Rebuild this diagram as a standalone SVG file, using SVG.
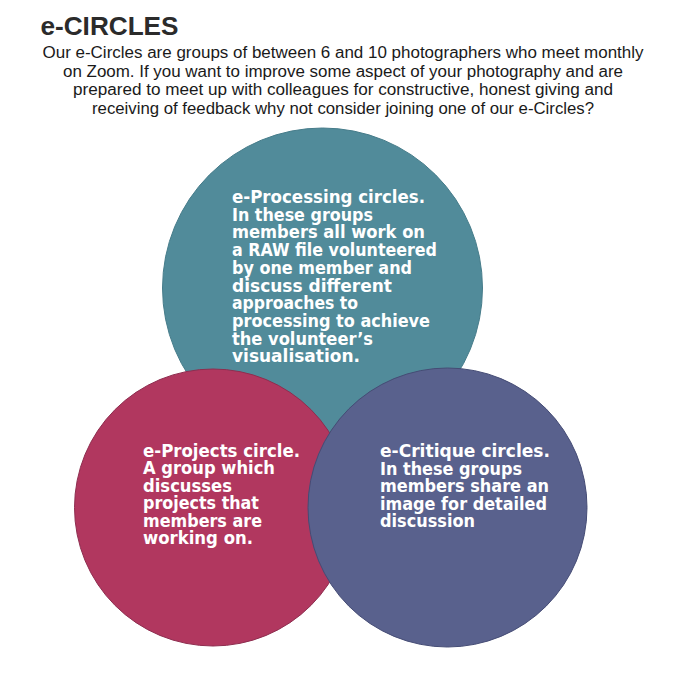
<svg xmlns="http://www.w3.org/2000/svg" width="693" height="686" viewBox="0 0 693 686">
  <style>
    .title { font-family: "Liberation Sans", Arial, sans-serif; font-weight: bold; font-size: 26px; fill: #2b2b2b; }
    .intro { font-family: "Liberation Sans", Arial, sans-serif; font-size: 16px; fill: #1a1a1a; text-anchor: middle; }
    .ctext { font-family: "DejaVu Sans", Verdana, sans-serif; font-weight: bold; font-size: 16.8px; fill: #ffffff; }
    .circ { stroke-width: 1; }
  </style>
  <rect x="0" y="0" width="693" height="686" fill="#ffffff"/>
  <text class="title" x="40.5" y="35" textLength="138" lengthAdjust="spacingAndGlyphs">e-CIRCLES</text>
  <g id="intro">
    <text class="intro" x="343" y="58" textLength="601" lengthAdjust="spacingAndGlyphs">Our e-Circles are groups of between 6 and 10 photographers who meet monthly</text>
    <text class="intro" x="343" y="76.5" textLength="560" lengthAdjust="spacingAndGlyphs">on Zoom. If you want to improve some aspect of your photography and are</text>
    <text class="intro" x="343" y="95" textLength="540" lengthAdjust="spacingAndGlyphs">prepared to meet up with colleagues for constructive, honest giving and</text>
    <text class="intro" x="343" y="113.5" textLength="502" lengthAdjust="spacingAndGlyphs">receiving of feedback why not consider joining one of our e-Circles?</text>
  </g>
  <g id="processing">
    <circle class="circ" cx="322.5" cy="288" r="160" fill="#518b9a" stroke="#467c8a"/>
    <text class="ctext">
      <tspan x="232" y="203" textLength="193" lengthAdjust="spacingAndGlyphs">e-Processing circles.</tspan>
      <tspan x="232" dy="17.7" textLength="141" lengthAdjust="spacingAndGlyphs">In these groups</tspan>
      <tspan x="232" dy="17.7" textLength="193" lengthAdjust="spacingAndGlyphs">members all work on</tspan>
      <tspan x="232" dy="17.7" textLength="205" lengthAdjust="spacingAndGlyphs">a RAW file volunteered</tspan>
      <tspan x="232" dy="17.7" textLength="180" lengthAdjust="spacingAndGlyphs">by one member and</tspan>
      <tspan x="232" dy="17.7" textLength="160" lengthAdjust="spacingAndGlyphs">discuss different</tspan>
      <tspan x="232" dy="17.7" textLength="126" lengthAdjust="spacingAndGlyphs">approaches to</tspan>
      <tspan x="232" dy="17.7" textLength="198" lengthAdjust="spacingAndGlyphs">processing to achieve</tspan>
      <tspan x="232" dy="17.7" textLength="141" lengthAdjust="spacingAndGlyphs">the volunteer’s</tspan>
      <tspan x="232" dy="17.7" textLength="128" lengthAdjust="spacingAndGlyphs">visualisation.</tspan>
    </text>
  </g>
  <g id="projects">
    <circle class="circ" cx="213" cy="507.5" r="138.5" fill="#b1375f" stroke="#8e2d4f"/>
    <text class="ctext">
      <tspan x="143" y="457" textLength="157" lengthAdjust="spacingAndGlyphs">e-Projects circle.</tspan>
      <tspan x="143" dy="17.4" textLength="132" lengthAdjust="spacingAndGlyphs">A group which</tspan>
      <tspan x="143" dy="17.4" textLength="89" lengthAdjust="spacingAndGlyphs">discusses</tspan>
      <tspan x="143" dy="17.4" textLength="116" lengthAdjust="spacingAndGlyphs">projects that</tspan>
      <tspan x="143" dy="17.4" textLength="119" lengthAdjust="spacingAndGlyphs">members are</tspan>
      <tspan x="143" dy="17.4" textLength="110" lengthAdjust="spacingAndGlyphs">working on.</tspan>
    </text>
  </g>
  <g id="critique">
    <circle class="circ" cx="447.5" cy="507.5" r="139.5" fill="#59618d" stroke="#454c75"/>
    <text class="ctext">
      <tspan x="380" y="457" textLength="170" lengthAdjust="spacingAndGlyphs">e-Critique circles.</tspan>
      <tspan x="380" dy="17.5" textLength="142" lengthAdjust="spacingAndGlyphs">In these groups</tspan>
      <tspan x="380" dy="17.5" textLength="169" lengthAdjust="spacingAndGlyphs">members share an</tspan>
      <tspan x="380" dy="17.5" textLength="167" lengthAdjust="spacingAndGlyphs">image for detailed</tspan>
      <tspan x="380" dy="17.5" textLength="95" lengthAdjust="spacingAndGlyphs">discussion</tspan>
    </text>
  </g>
  <g id="connectors"></g>
</svg>
